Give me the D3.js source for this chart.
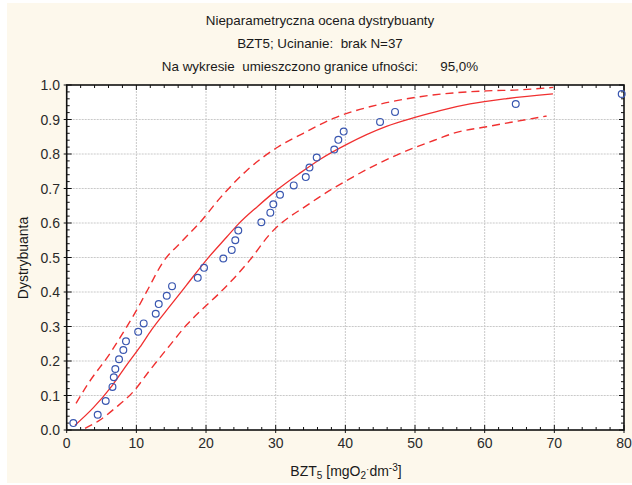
<!DOCTYPE html>
<html>
<head>
<meta charset="utf-8">
<script src="https://cdn.jsdelivr.net/npm/d3@7"></script>
<style>
  html, body { margin: 0; padding: 0; background: #ffffff; }
  svg { display: block; font-family: Arial, "Liberation Sans", sans-serif; }
</style>
</head>
<body>
<svg id="chart" width="632" height="485"></svg>
<script>
// ---- data ----
const titleLines = [
  "Nieparametryczna ocena dystrybuanty",
  "BZT5; Ucinanie:  brak N=37",
  "Na wykresie  umieszczono granice ufności:      95,0%"
];
const xTicks = [0, 10, 20, 30, 40, 50, 60, 70, 80];
const yTicks = [0.0, 0.1, 0.2, 0.3, 0.4, 0.5, 0.6, 0.7, 0.8, 0.9, 1.0];

// empirical points
const pointX = [0.95, 4.45, 5.60, 6.57, 6.76, 6.98, 7.51, 8.13, 8.51, 10.26, 11.05, 12.78,
  13.21, 14.36, 15.12, 18.81, 19.71, 22.48, 23.69, 24.20, 24.63, 27.94, 29.23, 29.66,
  30.62, 32.59, 34.32, 34.85, 35.89, 38.41, 38.99, 39.76, 44.98, 47.13, 64.46, 79.67];
const pointY = [0.020, 0.044, 0.084, 0.125, 0.153, 0.177, 0.205, 0.232, 0.257, 0.285, 0.309, 0.337,
  0.365, 0.389, 0.417, 0.441, 0.470, 0.497, 0.522, 0.550, 0.578, 0.602, 0.630, 0.654,
  0.682, 0.709, 0.733, 0.761, 0.790, 0.813, 0.841, 0.865, 0.893, 0.922, 0.945, 0.974];

// fitted distribution function
const fitX = [1.2, 3.8, 6.5, 8.6, 10.5, 12.2, 14.7, 17.2, 20.1, 23.0, 24.6, 27.4, 30.2, 33.3, 36.4, 40.2, 45.9, 50.0, 53.6, 57.9, 63.0, 69.8];
const fitY = [0.014, 0.064, 0.128, 0.188, 0.240, 0.291, 0.356, 0.420, 0.494, 0.560, 0.596, 0.648, 0.696, 0.742, 0.785, 0.828, 0.880, 0.906, 0.926, 0.945, 0.960, 0.974];

// upper confidence limit
const upperX = [1.34, 3.1, 6.22, 8.61, 10.05, 11.48, 13.87, 16.5, 19.14, 22.0, 26.0, 30.38, 33.97, 38.27, 44.5, 50.72, 55.5, 60.3, 65.07, 69.85];
const upperY = [0.077, 0.135, 0.222, 0.299, 0.348, 0.401, 0.488, 0.546, 0.602, 0.672, 0.755, 0.821, 0.860, 0.903, 0.942, 0.966, 0.977, 0.983, 0.986, 0.993];

// lower confidence limit
const lowerX = [2.63, 4.78, 6.93, 9.56, 11.96, 14.83, 17.23, 19.61, 22.0, 26.31, 29.18, 34.92, 41.14, 47.37, 53.59, 55.5, 60.3, 68.9];
const lowerY = [0.005, 0.029, 0.063, 0.111, 0.174, 0.246, 0.305, 0.353, 0.398, 0.493, 0.568, 0.657, 0.734, 0.797, 0.846, 0.860, 0.879, 0.910];

// ---- drawing ----
const svg = d3.select("#chart");
const W = 632, H = 485;
const plot = { left: 66.7, right: 624, top: 85, bottom: 430 };

svg.append("rect").attr("x", 7).attr("y", 3).attr("width", W - 7).attr("height", H - 5)
  .attr("fill", "#fdf8ec");

const x = d3.scaleLinear().domain([0, 80]).range([plot.left, plot.right]);
const y = d3.scaleLinear().domain([0, 1]).range([plot.bottom, plot.top]);

svg.append("rect").attr("x", plot.left).attr("y", plot.top)
  .attr("width", plot.right - plot.left).attr("height", plot.bottom - plot.top)
  .attr("fill", "#ffffff");

// grid
const grid = svg.append("g").attr("stroke", "#c9c9c9").attr("stroke-width", 1)
  .attr("stroke-dasharray", "2,1");
grid.selectAll("line.v").data(xTicks.slice(1, -1)).join("line")
  .attr("x1", d => x(d)).attr("x2", d => x(d))
  .attr("y1", plot.top).attr("y2", plot.bottom);
grid.selectAll("line.h").data(yTicks.slice(1, -1)).join("line")
  .attr("x1", plot.left).attr("x2", plot.right)
  .attr("y1", d => y(d)).attr("y2", d => y(d));

// clip
svg.append("clipPath").attr("id", "clip").append("rect")
  .attr("x", plot.left).attr("y", plot.top - 1)
  .attr("width", plot.right - plot.left + 4).attr("height", plot.bottom - plot.top + 2);

const lineGen = d3.line().x(d => x(d[0])).y(d => y(d[1])).curve(d3.curveMonotoneX);
const red = "#f03030";
const curves = svg.append("g").attr("clip-path", "url(#clip)");
curves.append("path").datum(d3.zip(fitX, fitY)).attr("d", lineGen)
  .attr("fill", "none").attr("stroke", red).attr("stroke-width", 1.3);
curves.append("path").datum(d3.zip(upperX, upperY)).attr("d", lineGen)
  .attr("fill", "none").attr("stroke", red).attr("stroke-width", 1.4)
  .attr("stroke-dasharray", "8,5");
curves.append("path").datum(d3.zip(lowerX, lowerY)).attr("d", lineGen)
  .attr("fill", "none").attr("stroke", red).attr("stroke-width", 1.4)
  .attr("stroke-dasharray", "8,5");

// axes (inward ticks on all four sides)
const minorX = d3.range(0, 80.01, 2);
const minorY = d3.range(0, 1.001, 0.02);
const axG = svg.append("g").attr("stroke", "#111").attr("stroke-width", 1);
axG.selectAll("line.mxb").data(minorX).join("line")
  .attr("x1", d => x(d)).attr("x2", d => x(d))
  .attr("y1", plot.bottom).attr("y2", d => plot.bottom - (xTicks.includes(d) ? 5 : 3));
axG.selectAll("line.mxt").data(minorX).join("line")
  .attr("x1", d => x(d)).attr("x2", d => x(d))
  .attr("y1", plot.top).attr("y2", d => plot.top + (xTicks.includes(d) ? 5 : 3));
axG.selectAll("line.myl").data(minorY).join("line")
  .attr("y1", d => y(d)).attr("y2", d => y(d))
  .attr("x1", plot.left).attr("x2", (d, i) => plot.left + (i % 5 === 0 ? 5 : 3));
axG.selectAll("line.myr").data(minorY).join("line")
  .attr("y1", d => y(d)).attr("y2", d => y(d))
  .attr("x1", plot.right).attr("x2", (d, i) => plot.right - (i % 5 === 0 ? 5 : 3));
axG.selectAll("line.ob").data(xTicks).join("line")
  .attr("x1", d => x(d)).attr("x2", d => x(d))
  .attr("y1", plot.bottom).attr("y2", plot.bottom + 3);
axG.selectAll("line.ol").data(yTicks).join("line")
  .attr("y1", d => y(d)).attr("y2", d => y(d))
  .attr("x1", plot.left).attr("x2", plot.left - 3);

svg.append("rect").attr("x", plot.left).attr("y", plot.top)
  .attr("width", plot.right - plot.left).attr("height", plot.bottom - plot.top)
  .attr("fill", "none").attr("stroke", "#111").attr("stroke-width", 1.6);

// points on top
const pts = svg.append("g").attr("clip-path", "url(#clip)");
pts.selectAll("circle").data(d3.zip(pointX, pointY)).join("circle")
  .attr("cx", d => x(d[0])).attr("cy", d => y(d[1])).attr("r", 3.4)
  .attr("fill", "none").attr("stroke", "#3a57b0").attr("stroke-width", 1.2);

// tick labels
const txtColor = "#2a2a2a";
svg.append("g").selectAll("text").data(xTicks).join("text")
  .attr("x", d => x(d)).attr("y", 448).attr("text-anchor", "middle")
  .attr("font-size", 14).attr("fill", txtColor).text(d => d);
svg.append("g").selectAll("text").data(yTicks).join("text")
  .attr("x", 60).attr("y", d => y(d)).attr("dy", "0.36em").attr("text-anchor", "end")
  .attr("font-size", 14).attr("fill", txtColor).text(d => d3.format(".1f")(d));

// titles
svg.append("g").selectAll("text").data(titleLines).join("text")
  .attr("x", 320).attr("y", (d, i) => 25 + i * 23).attr("text-anchor", "middle")
  .attr("font-size", 13.4).attr("fill", "#1a1a1a")
  .attr("xml:space", "preserve").style("white-space", "pre").text(d => d);

// axis titles
svg.append("text").attr("transform", "translate(28,258) rotate(-90)")
  .attr("text-anchor", "middle").attr("font-size", 14).attr("fill", "#1a1a1a")
  .text("Dystrybuanta");

const xt = svg.append("text").attr("x", 346).attr("y", 476).attr("text-anchor", "middle")
  .attr("font-size", 14).attr("fill", "#1a1a1a");
xt.append("tspan").text("BZT");
xt.append("tspan").attr("font-size", 10).attr("dy", 3).text("5");
xt.append("tspan").attr("dy", -3).text(" [mgO");
xt.append("tspan").attr("font-size", 10).attr("dy", 3).text("2");
xt.append("tspan").attr("font-size", 10).attr("dy", -6).text("·");
xt.append("tspan").attr("dy", 3).text("dm");
xt.append("tspan").attr("font-size", 10).attr("dy", -5).text("-3");
xt.append("tspan").attr("dy", 5).text("]");
</script>
</body>
</html>
